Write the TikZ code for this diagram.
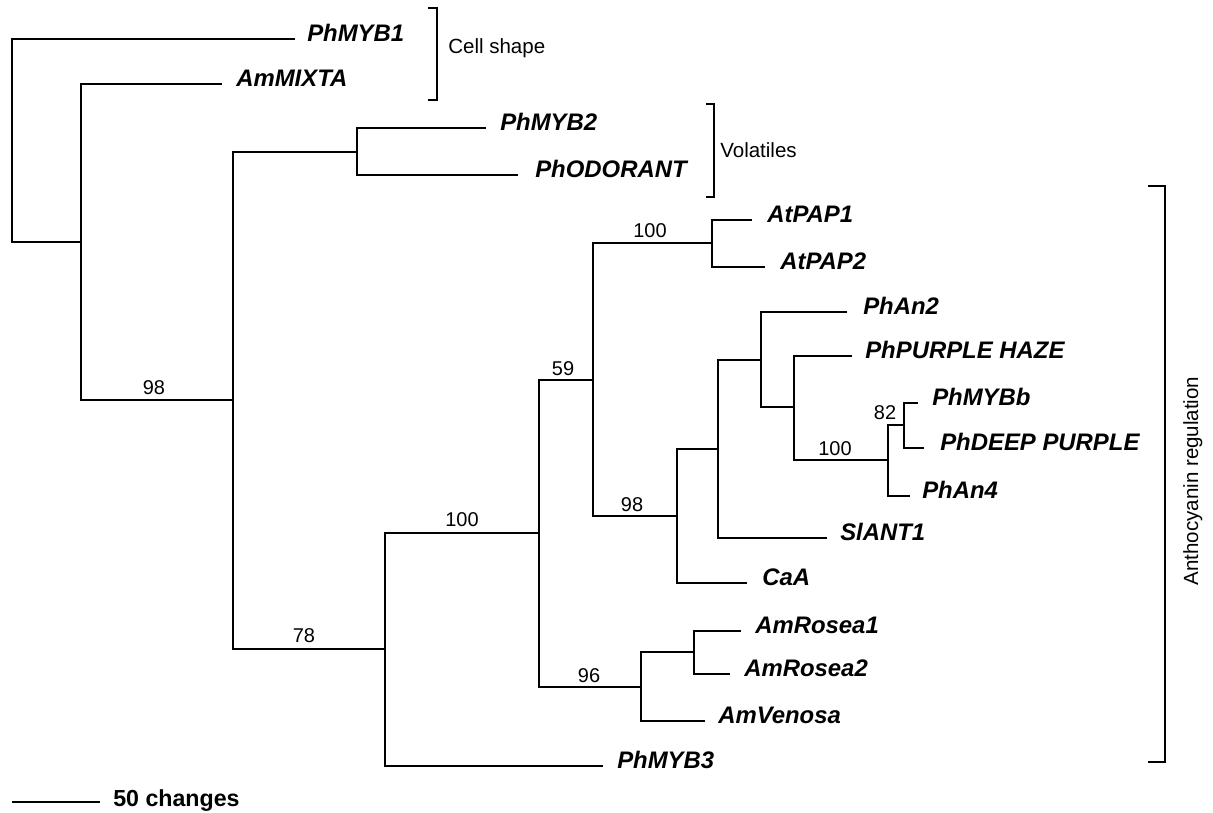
\documentclass[tikz,border=0pt]{standalone}
\usepackage{fontspec}
\setmainfont{Liberation Sans}
\usepackage{tikz}
\tikzset{
  branch/.style={
    line width=0.5mm,
  },
  bracket/.style={
    line width=0.65mm,
  },
  taxon/.style={
    anchor=base west,
    inner sep=0pt,
    font=\fontsize{17pt}{20pt}\selectfont\bfseries\itshape
  },
  boot/.style={
    anchor=base,
    inner sep=0pt,
    font=\fontsize{14.2pt}{17pt}\selectfont
  },
  group/.style={
    inner sep=0pt,
    font=\fontsize{14.6pt}{17pt}\selectfont
  }
}

\begin{document}
\begin{tikzpicture}[x=0.25mm,y=-0.25mm]
  \useasboundingbox (0,0) rectangle (1213,813);
  % internal nodes
  \coordinate (root) at (12,140);
  \coordinate (nA) at (81,242);
  \coordinate (nB) at (233,400);
  \coordinate (nC) at (357,152);
  \coordinate (nD) at (385,649);
  \coordinate (nE) at (539,533);
  \coordinate (nF) at (593,380);
  \coordinate (nG) at (712,243);
  \coordinate (nH) at (677,516);
  \coordinate (nI) at (718,449);
  \coordinate (nJ) at (761,360);
  \coordinate (nL) at (794,407);
  \coordinate (nM) at (888,460);
  \coordinate (nN) at (904,425);
  \coordinate (nK) at (641,687);
  \coordinate (nO) at (694,652);
  % tips
  \coordinate (PhMYB1) at (295,39);
  \coordinate (AmMIXTA) at (222,84);
  \coordinate (PhMYB2) at (486,128);
  \coordinate (PhODORANT) at (518,175);
  \coordinate (AtPAP1) at (752,220);
  \coordinate (AtPAP2) at (765,267);
  \coordinate (PhAn2) at (847,312);
  \coordinate (PhPH) at (852,356);
  \coordinate (PhMYBb) at (918,403);
  \coordinate (PhDP) at (924,448);
  \coordinate (PhAn4) at (910,496);
  \coordinate (SlANT1) at (827,538);
  \coordinate (CaA) at (747,583);
  \coordinate (AmRosea1) at (741,631);
  \coordinate (AmRosea2) at (730,674);
  \coordinate (AmVenosa) at (705,721);
  \coordinate (PhMYB3) at (603,766);
  %
  \draw[branch] (root) |- (PhMYB1) (root) |- (nA);
  \draw[branch] (nA) |- (AmMIXTA) (nA) |- (nB);
  \draw[branch] (nB) |- (nC) (nB) |- (nD);
  \draw[branch] (nC) |- (PhMYB2) (nC) |- (PhODORANT);
  \draw[branch] (nD) |- (nE) (nD) |- (PhMYB3);
  \draw[branch] (nE) |- (nF) (nE) |- (nK);
  \draw[branch] (nF) |- (nG) (nF) |- (nH);
  \draw[branch] (nG) |- (AtPAP1) (nG) |- (AtPAP2);
  \draw[branch] (nH) |- (nI) (nH) |- (CaA);
  \draw[branch] (nI) |- (nJ) (nI) |- (SlANT1);
  \draw[branch] (nJ) |- (PhAn2) (nJ) |- (nL);
  \draw[branch] (nL) |- (PhPH) (nL) |- (nM);
  \draw[branch] (nM) |- (nN) (nM) |- (PhAn4);
  \draw[branch] (nN) |- (PhMYBb) (nN) |- (PhDP);
  \draw[branch] (nK) |- (nO) (nK) |- (AmVenosa);
  \draw[branch] (nO) |- (AmRosea1) (nO) |- (AmRosea2);
  % taxa
  \node[taxon] (PhMYB1-lab) at (307,41.5) {PhMYB1};
  \node[taxon] (AmMIXTA-lab) at (236,86.5) {AmMIXTA};
  \node[taxon] (PhMYB2-lab) at (500,130.5) {PhMYB2};
  \node[taxon] (PhODORANT-lab) at (535,177.5) {PhODORANT};
  \node[taxon] (AtPAP1-lab) at (767,222.5) {AtPAP1};
  \node[taxon] (AtPAP2-lab) at (780,269.5) {AtPAP2};
  \node[taxon] (PhAn2-lab) at (863,314.5) {PhAn2};
  \node[taxon] (PhPH-lab) at (865,358.5) {PhPURPLE HAZE};
  \node[taxon] (PhMYBb-lab) at (932,405.5) {PhMYBb};
  \node[taxon] (PhDP-lab) at (940,450.5) {PhDEEP PURPLE};
  \node[taxon] (PhAn4-lab) at (922,498.5) {PhAn4};
  \node[taxon] (SlANT1-lab) at (840,540.5) {SlANT1};
  \node[taxon] (CaA-lab) at (762,585.5) {CaA};
  \node[taxon] (AmRosea1-lab) at (755,633.5) {AmRosea1};
  \node[taxon] (AmRosea2-lab) at (744,676.5) {AmRosea2};
  \node[taxon] (AmVenosa-lab) at (718,723.5) {AmVenosa};
  \node[taxon] (PhMYB3-lab) at (617,768.5) {PhMYB3};
  % bootstrap values
  \node[boot] (bB) at (154,394) {98};
  \node[boot] (bD) at (304,642) {78};
  \node[boot] (bE) at (462,526) {100};
  \node[boot] (bF) at (563,375) {59};
  \node[boot] (bG) at (650,237.5) {100};
  \node[boot] (bH) at (632,511) {98};
  \node[boot] (bK) at (589,682) {96};
  \node[boot] (bM) at (835,455) {100};
  \node[boot] (bN) at (885,419) {82};
  % groups
  \draw[bracket] (428,8) -- (437,8) -- (437,100) -- (428,100);
  \node[group, anchor=base west] (cell) at (448,53) {Cell shape};
  \draw[bracket] (706,104) -- (714,104) -- (714,197) -- (706,197);
  \node[group, anchor=base west] (vol) at (720,157) {Volatiles};
  \draw[bracket] (1148,186) -- (1165,186) -- (1165,762) -- (1148,762);
  \node[group, anchor=base, rotate=90] (antho) at (1198,481) {Anthocyanin regulation};
  % scale bar
  \coordinate (bar-l) at (12,802);
  \coordinate (bar-r) at (100,802);
  \draw[branch] (bar-l) -- (bar-r);
  \node[taxon, font=\fontsize{16.5pt}{20pt}\selectfont\bfseries] (bar-lab) at (113,806) {50 changes};
\end{tikzpicture}
\end{document}
